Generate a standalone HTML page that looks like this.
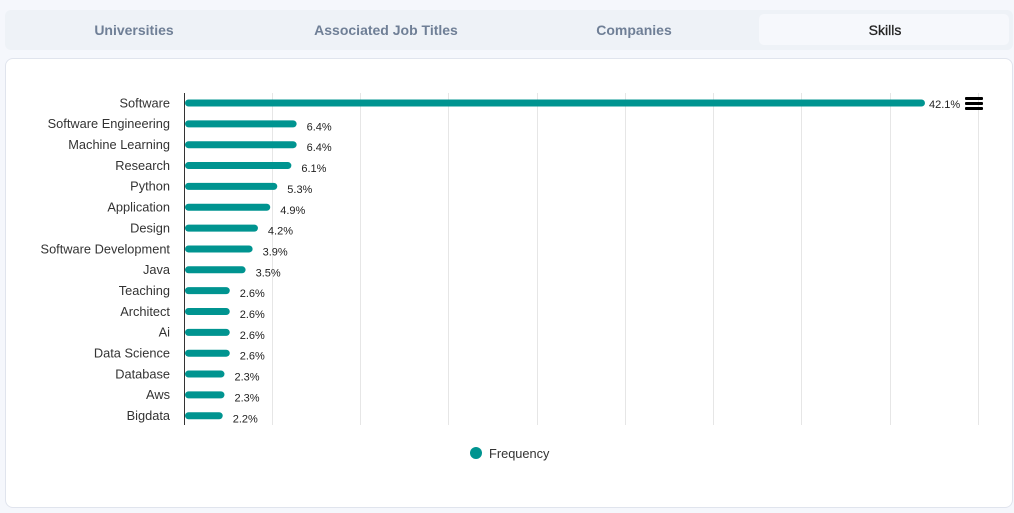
<!DOCTYPE html>
<html><head><meta charset="utf-8"><style>
body{margin:0;width:1014px;height:513px;background:#f5f7fc;font-family:"Liberation Sans",sans-serif;position:relative;overflow:hidden}
.tabs{position:absolute;left:5px;top:10px;width:1008px;height:40px;background:#eef2f7;border-radius:6px}
.tab{position:absolute;top:0;height:40px;line-height:40px;text-align:center;font-size:14px;font-weight:bold;color:#6f7f96;width:252px}
.act{position:absolute;left:754px;top:4px;width:250px;height:31px;background:#f6f8fc;border-radius:5px}
.card{position:absolute;left:5px;top:58px;width:1006px;height:448px;background:#fff;border:1px solid #e0e4ed;border-radius:8px}
</style></head><body>
<div class="tabs">
<div class="act"></div>
<div class="tab" style="left:3px">Universities</div>
<div class="tab" style="left:255px">Associated Job Titles</div>
<div class="tab" style="left:503px">Companies</div>
<div class="tab" style="left:754px;color:#222;font-weight:normal;-webkit-text-stroke:0.3px #222">Skills</div>
</div>
<div class="card"></div>
<svg width="1014" height="513" style="position:absolute;left:0;top:0" font-family="Liberation Sans, sans-serif">
<g stroke="#e6e6e6" stroke-width="1">
<line x1="272.5" y1="93" x2="272.5" y2="425"/><line x1="360.5" y1="93" x2="360.5" y2="425"/><line x1="448.5" y1="93" x2="448.5" y2="425"/><line x1="537.5" y1="93" x2="537.5" y2="425"/><line x1="625.5" y1="93" x2="625.5" y2="425"/><line x1="713.5" y1="93" x2="713.5" y2="425"/><line x1="801.5" y1="93" x2="801.5" y2="425"/><line x1="890.5" y1="93" x2="890.5" y2="425"/><line x1="978.5" y1="93" x2="978.5" y2="425"/>
</g>
<line x1="184.5" y1="93" x2="184.5" y2="425" stroke="#333"/>
<g id="rows" font-size="12.8"></g>
<g fill="#000"><rect x="965" y="97" width="18" height="3" rx="1"/><rect x="965" y="102" width="18" height="3" rx="1"/><rect x="965" y="107" width="18" height="3" rx="1"/></g>
<circle cx="476" cy="453" r="6" fill="#009490"/>
<text x="489" y="458" font-size="12.8" fill="#333">Frequency</text>
</svg>
<script>
var d=[["Software",42.1],["Software Engineering",6.4],["Machine Learning",6.4],["Research",6.1],["Python",5.3],["Application",4.9],["Design",4.2],["Software Development",3.9],["Java",3.5],["Teaching",2.6],["Architect",2.6],["Ai",2.6],["Data Science",2.6],["Database",2.3],["Aws",2.3],["Bigdata",2.2]];
var s="";d.forEach(function(r,i){var y=103+i*20.85,w=r[1]*17.6-1;
s+='<text x="170" y="'+(y+4.3)+'" text-anchor="end" fill="#333">'+r[0]+'</text>';
s+='<rect x="185" y="'+(y-3.5)+'" width="'+w+'" height="7" rx="3.5" fill="#009490"/>';
s+='<text x="'+(185+w+(i?10:4))+'" y="'+(y+(i?6.5:5))+'" font-size="11" fill="#222">'+r[1]+'%</text>';});
document.getElementById("rows").innerHTML=s;
</script>
</body></html>
